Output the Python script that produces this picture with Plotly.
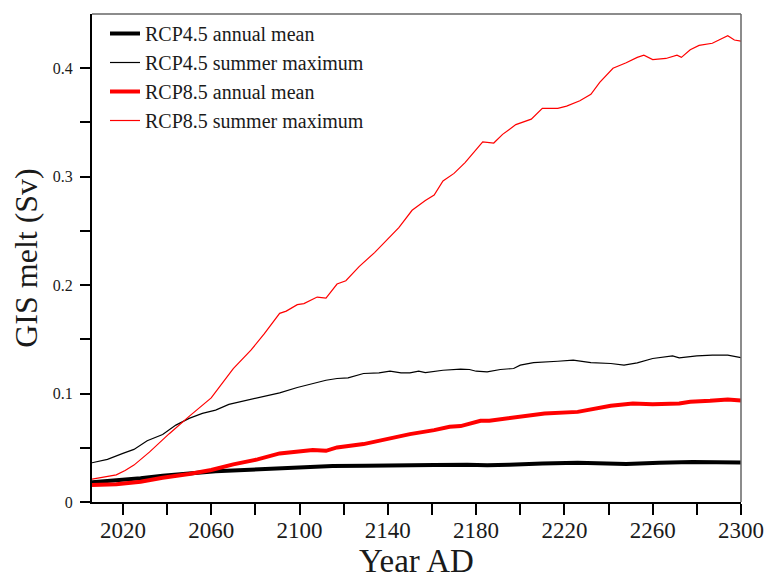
import plotly.graph_objects as go

# RCP4.5 annual mean (thick black)
rcp45_mean_year = [2006, 2017, 2028, 2038, 2050, 2062, 2075, 2087, 2099, 2105, 2115, 2130, 2146, 2161, 2176, 2185, 2195, 2200, 2210, 2226, 2238, 2248, 2263, 2278, 2300]
rcp45_mean_val = [0.0181, 0.0196, 0.0218, 0.0242, 0.0264, 0.0283, 0.0295, 0.0307, 0.0316, 0.0320, 0.0331, 0.0334, 0.0341, 0.0341, 0.0343, 0.0338, 0.0343, 0.0350, 0.0356, 0.0362, 0.0356, 0.0350, 0.0362, 0.0368, 0.0365]

# RCP4.5 summer maximum (thin black)
rcp45_max_year = [2006, 2013, 2020, 2025, 2031, 2038, 2044, 2050, 2056, 2062, 2068, 2078, 2084, 2091, 2099, 2106, 2112, 2117, 2122, 2129, 2136, 2141, 2146, 2150, 2154, 2157, 2165, 2173, 2177, 2180, 2185, 2191, 2197, 2200, 2206, 2217, 2224, 2232, 2241, 2247, 2253, 2260, 2269, 2272, 2280, 2287, 2294, 2300]
rcp45_max_val = [0.0362, 0.0393, 0.0448, 0.0485, 0.0565, 0.0623, 0.0709, 0.0771, 0.0817, 0.0847, 0.0900, 0.0945, 0.0979, 0.1007, 0.1056, 0.1093, 0.1123, 0.1139, 0.1145, 0.1185, 0.1190, 0.1206, 0.1190, 0.1190, 0.1206, 0.1194, 0.1215, 0.1225, 0.1222, 0.1206, 0.1200, 0.1222, 0.1231, 0.1262, 0.1286, 0.1298, 0.1308, 0.1286, 0.1277, 0.1262, 0.1283, 0.1323, 0.1347, 0.1329, 0.1347, 0.1354, 0.1354, 0.1332]

# RCP8.5 annual mean (thick red)
rcp85_mean_year = [2006, 2017, 2028, 2038, 2050, 2060, 2070, 2081, 2091, 2099, 2106, 2112, 2117, 2129, 2138, 2150, 2161, 2168, 2173, 2182, 2186, 2194, 2200, 2203, 2211, 2226, 2233, 2241, 2251, 2260, 2272, 2277, 2286, 2294, 2300]
rcp85_mean_val = [0.0157, 0.0163, 0.0187, 0.0224, 0.0258, 0.0295, 0.0347, 0.0393, 0.0448, 0.0463, 0.0479, 0.0472, 0.0503, 0.0534, 0.0577, 0.0626, 0.0663, 0.0694, 0.0700, 0.0749, 0.0749, 0.0771, 0.0786, 0.0795, 0.0817, 0.0831, 0.0854, 0.0887, 0.0909, 0.0902, 0.0909, 0.0924, 0.0933, 0.0946, 0.0936]

# RCP8.5 summer maximum (thin red)
rcp85_max_year = [2006, 2012, 2017, 2021, 2025, 2032, 2041, 2050, 2060, 2070, 2078, 2084, 2091, 2094, 2099, 2102, 2105, 2108, 2112, 2117, 2121, 2127, 2134, 2140, 2145, 2151, 2157, 2161, 2165, 2170, 2175, 2183, 2188, 2192, 2198, 2205, 2210, 2217, 2221, 2227, 2232, 2236, 2242, 2248, 2253, 2256, 2260, 2266, 2271, 2273, 2277, 2281, 2287, 2290, 2294, 2297, 2300]
rcp85_max_val = [0.021, 0.023, 0.025, 0.029, 0.034, 0.046, 0.063, 0.079, 0.096, 0.123, 0.140, 0.155, 0.174, 0.176, 0.182, 0.183, 0.186, 0.189, 0.188, 0.201, 0.204, 0.217, 0.230, 0.243, 0.253, 0.269, 0.278, 0.283, 0.296, 0.303, 0.313, 0.332, 0.331, 0.339, 0.348, 0.353, 0.363, 0.363, 0.365, 0.370, 0.376, 0.387, 0.400, 0.405, 0.410, 0.412, 0.408, 0.409, 0.412, 0.410, 0.417, 0.421, 0.423, 0.426, 0.430, 0.426, 0.425]

x_tickvals = list(range(2020, 2301, 20))
x_ticktext = [str(v) if (v - 2020) % 40 == 0 else "" for v in x_tickvals]
y_tickvals = [0, 0.05, 0.1, 0.15, 0.2, 0.25, 0.3, 0.35, 0.4]
y_ticktext = ["0", "", "0.1", "", "0.2", "", "0.3", "", "0.4"]

FONT = "Liberation Serif"
TXT = "#1a1a1a"

fig = go.Figure()
fig.add_trace(go.Scatter(x=rcp45_mean_year, y=rcp45_mean_val, mode="lines",
                         line=dict(color="black", width=4), name="RCP4.5 annual mean"))
fig.add_trace(go.Scatter(x=rcp45_max_year, y=rcp45_max_val, mode="lines",
                         line=dict(color="black", width=1.2), name="RCP4.5 summer maximum"))
fig.add_trace(go.Scatter(x=rcp85_mean_year, y=rcp85_mean_val, mode="lines",
                         line=dict(color="red", width=4), name="RCP8.5 annual mean"))
fig.add_trace(go.Scatter(x=rcp85_max_year, y=rcp85_max_val, mode="lines",
                         line=dict(color="red", width=1.2), name="RCP8.5 summer maximum"))

fig.update_layout(
    width=774, height=579,
    margin=dict(l=92, r=33, t=14, b=77),
    plot_bgcolor="white", paper_bgcolor="white",
    font=dict(family=FONT, color=TXT),
    showlegend=True,
    legend=dict(x=0.02, y=1.0, xanchor="left", yanchor="top",
                font=dict(family=FONT, size=20, color=TXT),
                bgcolor="rgba(0,0,0,0)", itemwidth=30, tracegroupgap=0),
    xaxis=dict(range=[2006, 2300], tickmode="array", tickvals=x_tickvals, ticktext=x_ticktext,
               ticks="outside", ticklen=11, tickwidth=2, tickcolor="black",
               showline=True, linecolor="black", linewidth=2, showgrid=False, zeroline=False,
               automargin=False, ticklabelstandoff=-5,
               tickfont=dict(family=FONT, size=23, color=TXT),
               title=dict(text="Year AD", font=dict(family=FONT, size=33, color=TXT), standoff=10)),
    yaxis=dict(range=[0, 0.45], tickmode="array", tickvals=y_tickvals, ticktext=y_ticktext,
               ticks="outside", ticklen=10, tickwidth=2, tickcolor="black",
               showline=True, linecolor="black", linewidth=2, showgrid=False, zeroline=False,
               automargin=False, ticklabelstandoff=4,
               tickfont=dict(family=FONT, size=16, color=TXT),
               title=dict(text="GIS melt (Sv)", font=dict(family=FONT, size=32, color=TXT), standoff=6)),
    shapes=[
        dict(type="line", xref="paper", yref="paper", x0=0, x1=1, y0=1, y1=1,
             line=dict(color="#666", width=1.5)),
        dict(type="line", xref="paper", yref="paper", x0=1, x1=1, y0=0, y1=1,
             line=dict(color="#666", width=1.5)),
    ],
)

fig.write_html("out.html")
